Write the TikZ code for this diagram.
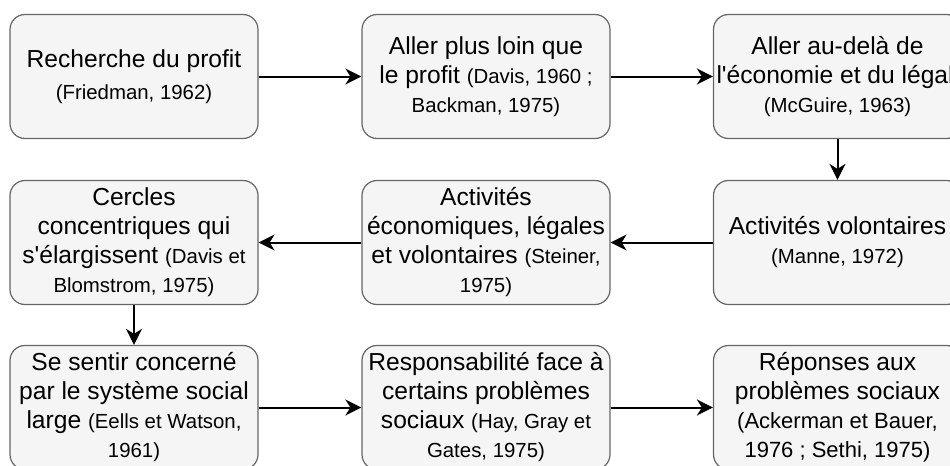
\documentclass[tikz,border=0pt]{standalone}
\usepackage{fontspec}
\setmainfont{Liberation Sans}
\usetikzlibrary{arrows.meta}
\definecolor{boxfill}{HTML}{F5F5F5}
\definecolor{boxline}{HTML}{666666}
\newcommand{\auteur}[1]{{\fontsize{10.2}{14.5}\selectfont #1}}

\begin{document}
\begin{tikzpicture}[x=0.5pt,y=-0.5pt,
        etape/.style={draw=boxline, fill=boxfill, line width=0.6pt, rounded corners=7.5pt,
            minimum width=124pt, minimum height=62pt, inner sep=0pt, align=center,
            font=\fontsize{12.3}{14.5}\selectfont},
        fleche/.style={-{Stealth[length=8pt,width=8pt,inset=2.5pt]}, line width=1pt}]
        \useasboundingbox (0,0) rectangle (950,466);
        % rangee du haut
        \node[etape] (profit) at (134,76.5) {Recherche du profit\\[1.5pt]\auteur{(Friedman, 1962)}};
        \node[etape] (loin) at (486,76.5) {Aller plus loin que\\le profit \auteur{(Davis, 1960 ;}\\\auteur{Backman, 1975)}};
        \node[etape] (legal) at (837.5,76.5) {Aller au-delà de\\\makebox[124pt][l]{\hspace{1.5pt}l\textquotesingle économie et du légal}\\\auteur{(McGuire, 1963)}};
        % rangee du milieu
        \node[etape] (volont) at (837.5,242.5) {Activités volontaires\\\auteur{(Manne, 1972)}};
        \node[etape] (steiner) at (486,242.5) {Activités\\économiques, légales\\et volontaires \auteur{(Steiner,}\\\auteur{1975)}};
        \node[etape] (cercles) at (134,242.5) {Cercles\\concentriques qui\\s\textquotesingle élargissent \auteur{(Davis et}\\\auteur{Blomstrom, 1975)}};
        % rangee du bas
        \node[etape] (concerne) at (134,407.5) {Se sentir concerné\\par le système social\\large \auteur{(Eells et Watson,}\\\auteur{1961)}};
        \node[etape] (certains) at (486,407.5) {Responsabilité face à\\certains problèmes\\sociaux \auteur{(Hay, Gray et}\\\auteur{Gates, 1975)}};
        \node[etape] (reponses) at (837.5,407.5) {Réponses aux\\problèmes sociaux\\{\fontsize{11}{14.5}\selectfont (Ackerman et Bauer,}\\{\fontsize{11}{14.5}\selectfont 1976 ; Sethi, 1975)}};

        \draw[fleche] (profit) -- (loin);
        \draw[fleche] (loin) -- (legal);
        \draw[fleche] (legal) -- (volont);
        \draw[fleche] (volont) -- (steiner);
        \draw[fleche] (steiner) -- (cercles);
        \draw[fleche] (cercles) -- (concerne);
        \draw[fleche] (concerne) -- (certains);
        \draw[fleche] (certains) -- (reponses);
    \end{tikzpicture}
\end{document}
